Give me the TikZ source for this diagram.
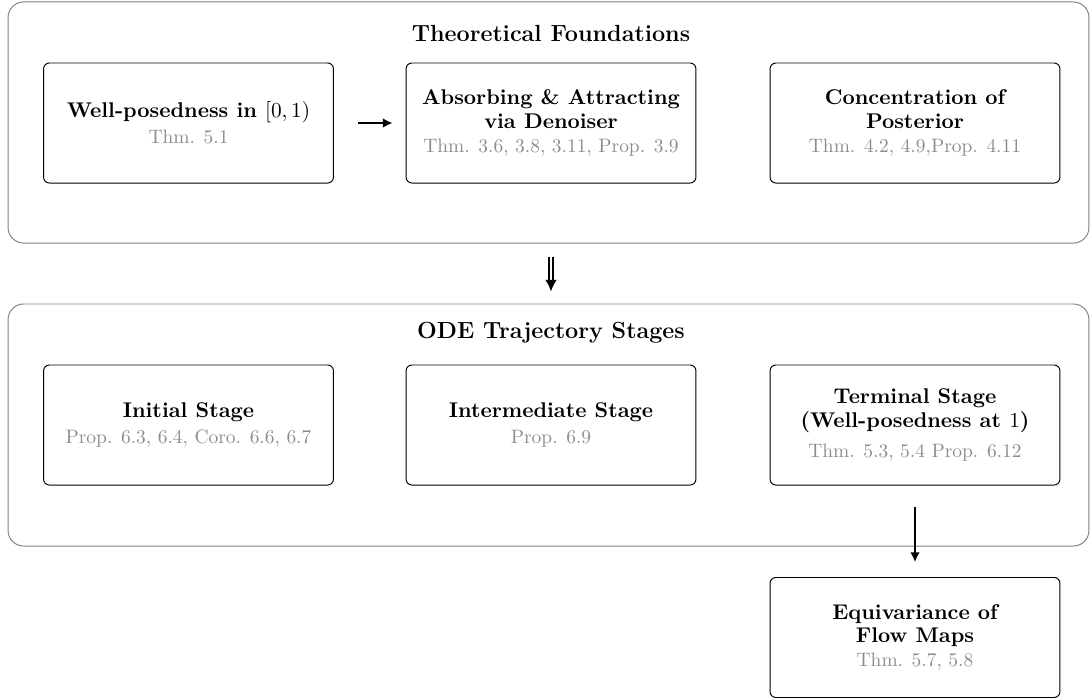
\documentclass[tikz,border=0pt]{standalone}
\usetikzlibrary{arrows.meta}
\newcommand\reftxt[1]{{\normalfont\fontsize{10}{12}\selectfont\color{black!45}#1}}
\begin{document}
\begin{tikzpicture}[x=0.514pt,y=-0.514pt,
  card/.style={draw, rounded corners=3pt, line width=0.5pt,
    minimum width=149pt, minimum height=61.7pt, align=center, inner sep=2pt,
    font=\fontsize{10.95}{12}\selectfont\bfseries},
  group/.style={draw=black!50, rounded corners=8pt, line width=0.5pt,
    minimum width=555.6pt, inner sep=0pt},
  gtitle/.style={font=\fontsize{12}{14}\selectfont\bfseries},
  arr/.style={line width=0.9pt, -{Latex[length=5pt,width=5pt]}},
  dbl/.style={double, double distance=1.2pt, line width=0.7pt, -{Latex[length=6pt,width=6pt]}}
]
\useasboundingbox (0,0) rectangle (1090,698);
% groups
\node[group, minimum height=123.9pt] (g1) at (548.5,122.5) {};
\node[group, minimum height=124.4pt] (g2) at (548.5,425) {};
\node[gtitle] (t1) at (551,33) {Theoretical Foundations};
\node[gtitle] (t2) at (551,333) {ODE Trajectory Stages};
% row 1
\node[card] (wp) at (188.5,123) {Well-posedness in $[0,1)$\\[1.5pt]\reftxt{Thm. 5.1}};
\node[card] (ad) at (551,123) {Absorbing \& Attracting\\via Denoiser\\[0.5pt]\reftxt{Thm. 3.6, 3.8, 3.11, Prop. 3.9}};
\node[card] (cp) at (915,123) {Concentration of\\Posterior\\[0.5pt]\reftxt{Thm. 4.2, 4.9,Prop. 4.11}};
% row 2
\node[card] (is) at (188.5,425) {Initial Stage\\[1.5pt]\reftxt{Prop. 6.3, 6.4, Coro. 6.6, 6.7}};
\node[card] (ms) at (551,425) {Intermediate Stage\\[1.5pt]\reftxt{Prop. 6.9}};
\node[card] (ts) at (915,425) {Terminal Stage\\(Well-posedness at $1$)\\[3.5pt]\reftxt{Thm. 5.3, 5.4 Prop. 6.12}};
% bottom
\node[card] (eq) at (915,637.5) {Equivariance of\\Flow Maps\\[0.5pt]\reftxt{Thm. 5.7, 5.8}};
% connectors
\draw[arr, shorten <=12.3pt, shorten >=6.7pt] (wp.east) -- (ad.west);
\draw[dbl, shorten <=6.7pt, shorten >=6.2pt] (g1.south -| ad) -- (g2.north -| ad);
\draw[arr, shorten <=11.3pt, shorten >=7.7pt] (ts.south) -- (eq.north);
\end{tikzpicture}
\end{document}
